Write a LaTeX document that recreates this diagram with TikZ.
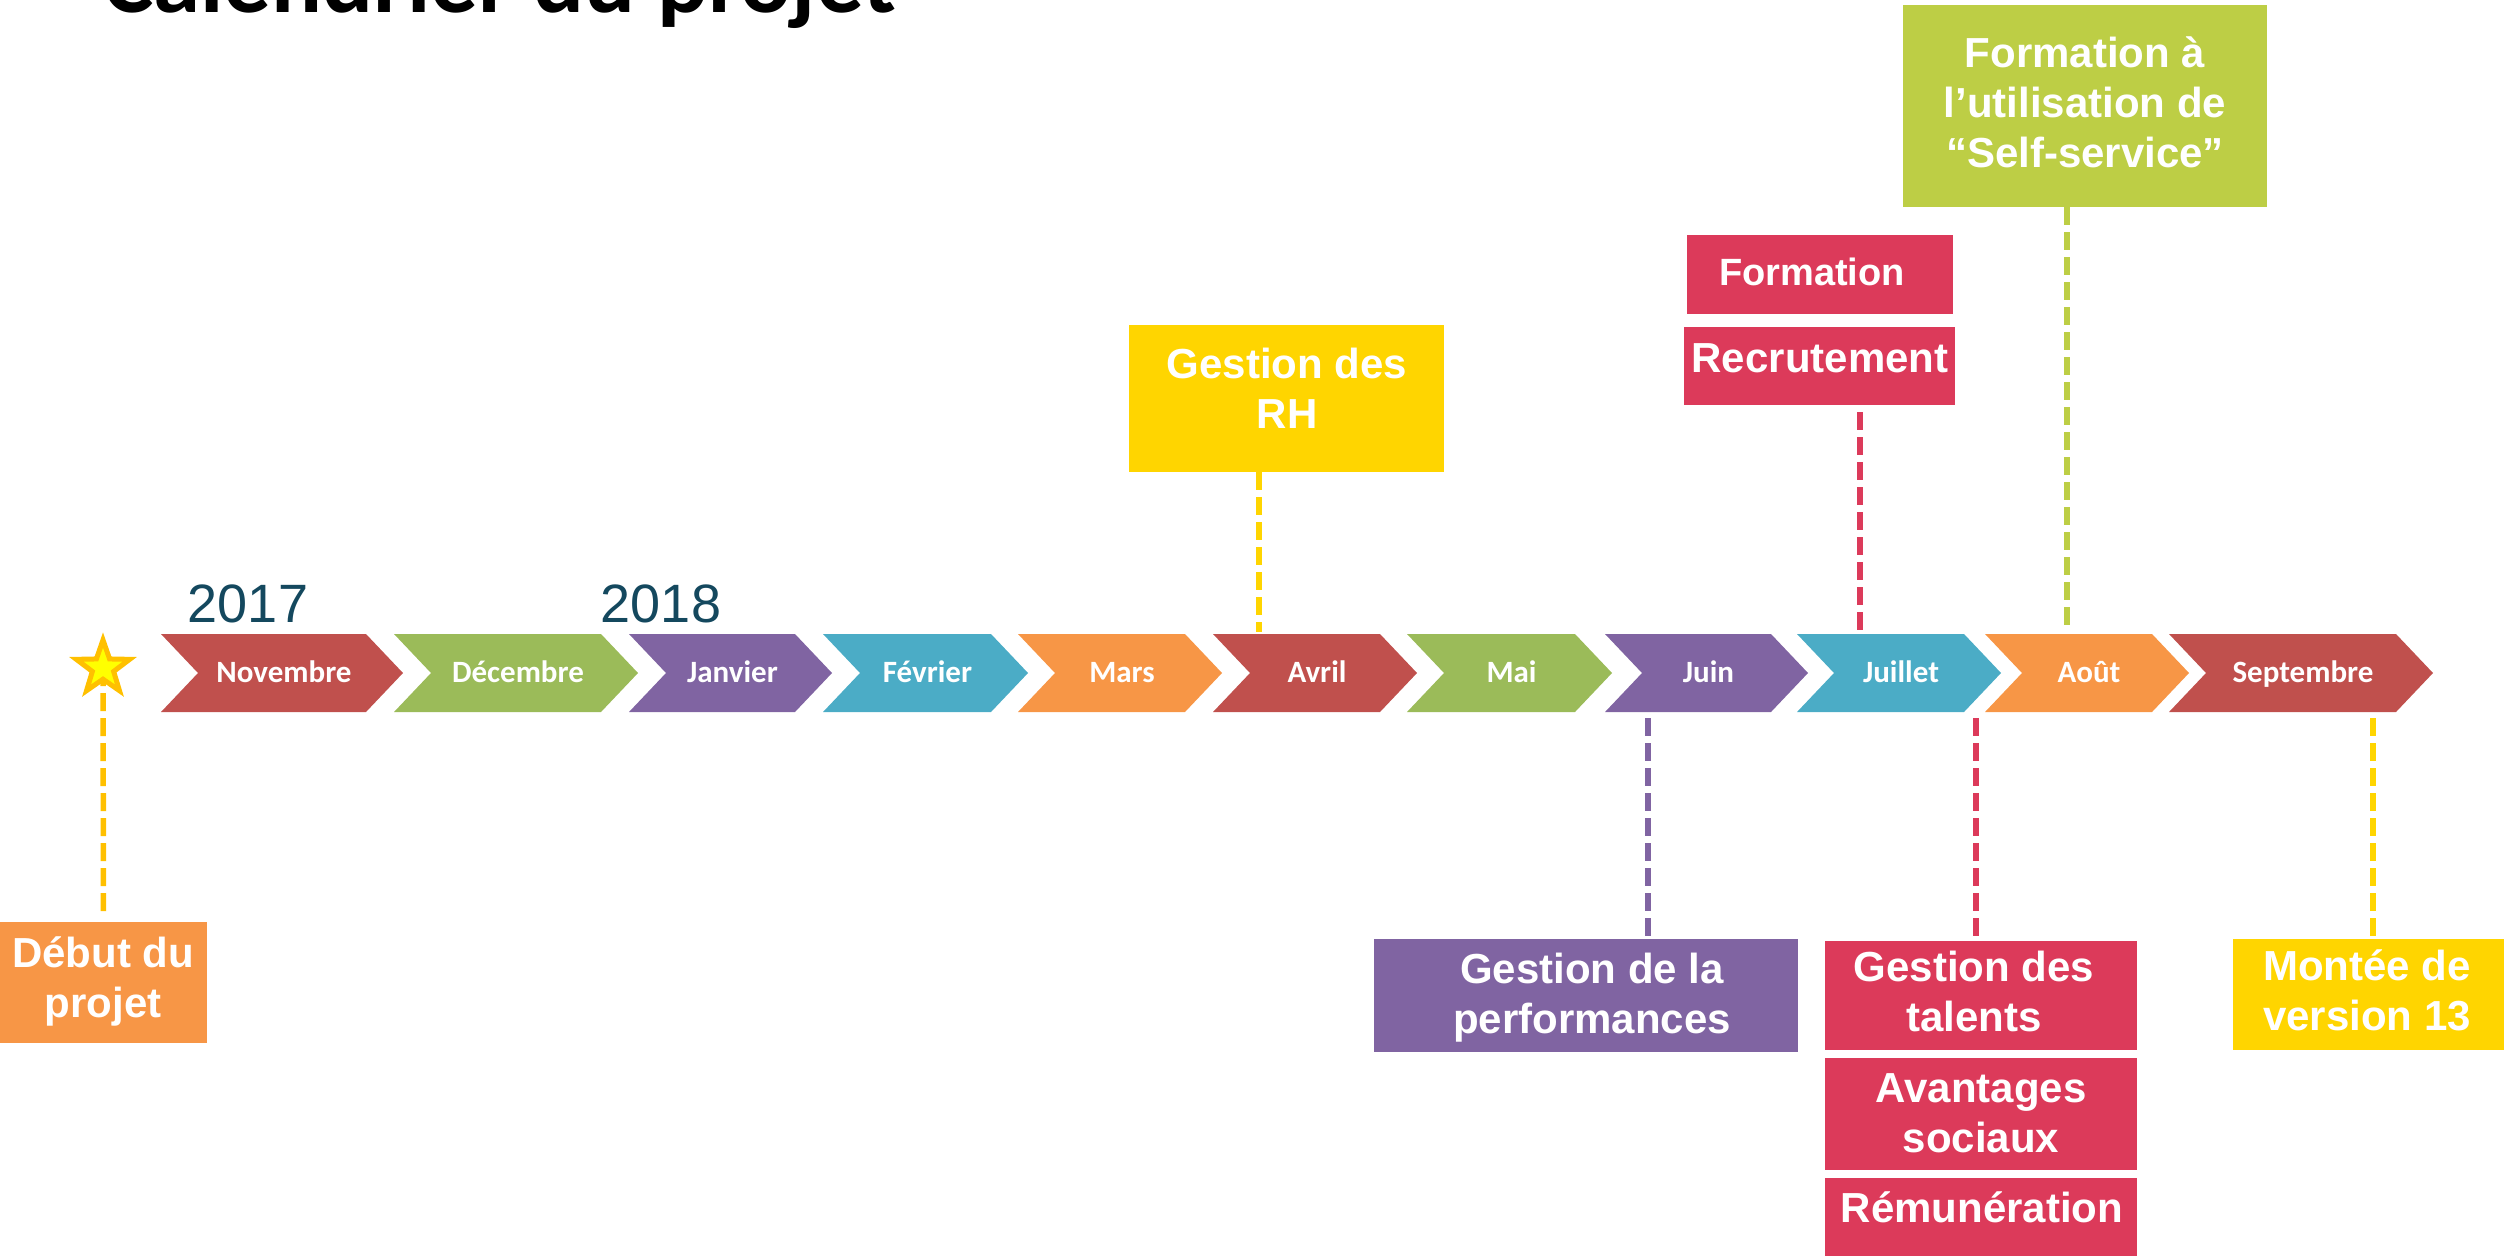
\documentclass[tikz,border=0pt]{standalone}
\usepackage{fontspec}
\setmainfont{Liberation Sans}
\newfontfamily\carlito{Carlito}
\usetikzlibrary{shapes.geometric}
\definecolor{cRed}{HTML}{C0504D}
\definecolor{cGreen}{HTML}{9BBB59}
\definecolor{cPurple}{HTML}{8064A2}
\definecolor{cAqua}{HTML}{4BACC6}
\definecolor{cOrange}{HTML}{F79646}
\definecolor{cCrimson}{HTML}{DC3A5A}
\definecolor{cLime}{HTML}{BDCE45}
\definecolor{cYel}{HTML}{FFD500}
\definecolor{cGold}{HTML}{FFC000}
\definecolor{cStar}{HTML}{FFFF00}
\definecolor{cYear}{HTML}{14485E}
\tikzset{
  month/.style={anchor=base, text=white, inner sep=0pt, font=\carlito\bfseries\fontsize{31}{37}\selectfont},
  fillbox/.style={rectangle, fill=#1, inner sep=0pt},
  boxtext/.style={align=center, text=white, inner sep=0pt, font=\bfseries\fontsize{42}{50}\selectfont},
  conn/.style={draw=#1, line width=5.5pt, dash pattern=on 18pt off 7pt},
  yearlbl/.style={anchor=base, text=cYear, inner sep=0pt, font=\fontsize{54}{60}\selectfont},
}
\newcommand\mychev[5]{%
  \fill[#4] (#2,634) -- (#3,634) -- ++(37,39) -- ++(-37,39) -- (#2,712) -- ++(37,-39) -- cycle;
  \node[month] (#1) at ({(#2+37+#3)/2+2},682) {#5};
}
\begin{document}
\begin{tikzpicture}[x=1pt,y=-1pt]
\useasboundingbox (0,0) rectangle (2504,1256);
\clip (0,0) rectangle (2504,1256);

% title (cut off at top)
\node[anchor=base west, inner sep=0pt, font=\carlito\bfseries\fontsize{95}{110}\selectfont] (title) at (103,12) {Calendrier du projet};

% years
\node[yearlbl] (y2017) at (248,622) {2017};
\node[yearlbl] (y2018) at (661,622) {2018};

% chevrons
\mychev{nov}{161}{366}{cRed}{Novembre}
\mychev{dec}{394}{601}{cGreen}{Décembre}
\mychev{jan}{629}{795}{cPurple}{Janvier}
\mychev{fev}{823}{991}{cAqua}{Février}
\mychev{mar}{1018}{1185}{cOrange}{Mars}
\mychev{avr}{1213}{1380}{cRed}{Avril}
\mychev{mai}{1407}{1575}{cGreen}{Mai}
\mychev{jun}{1605}{1771}{cPurple}{Juin}
\mychev{jul}{1797}{1964}{cAqua}{Juillet}
\mychev{aou}{1985}{2152}{cOrange}{Août}
\mychev{sep}{2169}{2396}{cRed}{Septembre}

% connector end points on the timeline
\coordinate (avrTop) at (1259,632);
\coordinate (julTop) at (1860,632);
\coordinate (aouTop) at (2067,632);
\coordinate (junBot) at (1648,718);
\coordinate (julBot) at (1976,718);
\coordinate (sepBot) at (2373,718);

% boxes above
\node[fillbox=cYel, minimum width=315pt, minimum height=147pt] (rh) at (1286.5,398.5) {};
\node[boxtext] (rhT) at (1287,388) {Gestion des\\RH};

\node[fillbox=cLime, minimum width=364pt, minimum height=202pt] (self) at (2085,106) {};
\node[boxtext] (selfT) at (2085,102) {Formation à\\l’utilisation de\\“Self-service”};

\node[fillbox=cCrimson, minimum width=266pt, minimum height=79pt] (form) at (1820,274.5) {};
\node[boxtext, font=\bfseries\fontsize{38}{46}\selectfont] (formT) at (1812,271.5) {Formation};

\node[fillbox=cCrimson, minimum width=271pt, minimum height=78pt] (recr) at (1819.5,366) {};
\node[boxtext] (recrT) at (1820,358.5) {Recrutement};

% boxes below
\node[fillbox=cOrange, minimum width=207pt, minimum height=121pt] (debut) at (103.5,982.5) {};
\node[boxtext] (debutT) at (103,981) {Début du\\projet};

\node[fillbox=cPurple, minimum width=424pt, minimum height=113pt] (perf) at (1586,995.5) {};
\node[boxtext] (perfT) at (1592,998) {Gestion de la\\performances};

\node[fillbox=cCrimson, minimum width=312pt, minimum height=109pt] (tal) at (1981,995.5) {};
\node[boxtext] (talT) at (1974,991) {Gestion des\\talents};

\node[fillbox=cCrimson, minimum width=312pt, minimum height=112pt] (avan) at (1981,1114) {};
\node[boxtext] (avanT) at (1981,1113) {Avantages\\sociaux};

\node[fillbox=cCrimson, minimum width=312pt, minimum height=92pt] (remu) at (1981,1224) {};
\node[boxtext] (remuT) at (1982,1207) {Rémunération};

\node[fillbox=cYel, minimum width=277pt, minimum height=111pt] (mont) at (2371.5,994.5) {};
\node[boxtext] (montT) at (2367,990) {Montée de\\version 13};

% connectors
\coordinate (starC) at (103,668);
\draw[conn=cGold] (starC) -- ([yshift=10pt]debut.north);
\draw[conn=cYel] (rh.south -| avrTop) -- (avrTop);
\draw[conn=cCrimson] ([yshift=-7pt]recr.south -| julTop) -- (julTop);
\draw[conn=cLime] (self.south -| aouTop) -- (aouTop);
\draw[conn=cPurple] (junBot) -- (perf.north -| junBot);
\draw[conn=cCrimson] (julBot) -- ([yshift=2pt]tal.north -| julBot);
\draw[conn=cYel] (sepBot) -- (mont.north -| sepBot);

% star
\node[star, star points=5, star point ratio=2.5, minimum size=56pt, inner sep=0pt,
      fill=cStar, draw=cGold, line width=5pt] (star) at (starC) {};
\end{tikzpicture}
\end{document}
